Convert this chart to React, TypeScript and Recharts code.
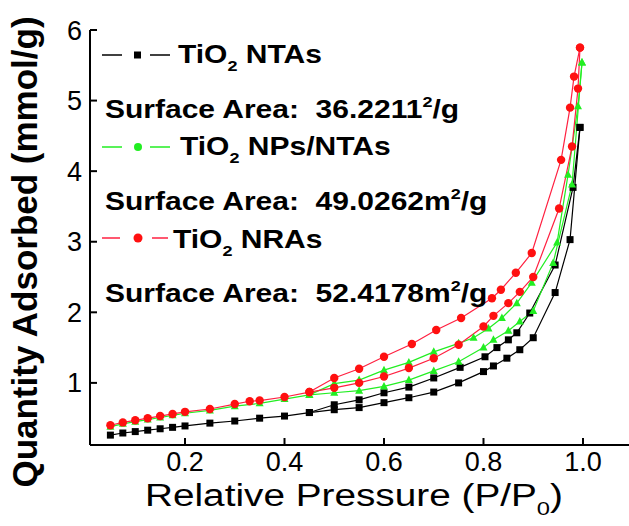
import React from 'react'
import { LineChart, Line, XAxis, YAxis } from 'recharts'

// TiO2 NTAs
const ntasAdsP = [0.05, 0.075, 0.1, 0.125, 0.15, 0.175, 0.2, 0.25, 0.3, 0.35, 0.4, 0.45, 0.5, 0.55, 0.6, 0.65, 0.7, 0.75, 0.8, 0.82, 0.847, 0.873, 0.9, 0.944, 0.974, 0.994]
const ntasAdsQ = [0.26, 0.29, 0.31, 0.33, 0.35, 0.37, 0.39, 0.43, 0.46, 0.5, 0.53, 0.58, 0.62, 0.65, 0.72, 0.79, 0.87, 1.0, 1.16, 1.24, 1.35, 1.47, 1.64, 2.28, 3.03, 4.62]
const ntasDesP = [0.994, 0.98, 0.944, 0.893, 0.867, 0.85, 0.827, 0.803, 0.753, 0.7, 0.65, 0.6, 0.55, 0.5, 0.45]
const ntasDesQ = [4.62, 3.77, 2.67, 1.99, 1.71, 1.61, 1.5, 1.37, 1.22, 1.07, 0.94, 0.86, 0.76, 0.69, 0.58]

// TiO2 NPs/NTAs
const npsAdsP = [0.05, 0.075, 0.1, 0.125, 0.15, 0.175, 0.2, 0.25, 0.3, 0.35, 0.4, 0.45, 0.5, 0.55, 0.6, 0.65, 0.7, 0.75, 0.8, 0.82, 0.85, 0.873, 0.9, 0.94, 0.978, 0.998]
const npsAdsQ = [0.38, 0.42, 0.45, 0.48, 0.51, 0.54, 0.57, 0.61, 0.67, 0.71, 0.77, 0.83, 0.86, 0.89, 0.95, 1.04, 1.17, 1.3, 1.5, 1.61, 1.74, 1.87, 2.02, 2.7, 3.81, 5.54]
const npsDesP = [0.998, 0.99, 0.97, 0.948, 0.897, 0.867, 0.837, 0.81, 0.78, 0.75, 0.7, 0.65, 0.6, 0.55, 0.5, 0.45]
const npsDesQ = [5.54, 4.92, 3.95, 2.99, 2.42, 2.13, 1.92, 1.77, 1.64, 1.56, 1.44, 1.29, 1.18, 1.04, 0.99, 0.83]

// TiO2 NRAs
const nrasAdsP = [0.05, 0.075, 0.1, 0.125, 0.15, 0.175, 0.2, 0.25, 0.3, 0.33, 0.35, 0.4, 0.45, 0.5, 0.55, 0.6, 0.65, 0.7, 0.75, 0.8, 0.82, 0.85, 0.873, 0.9, 0.952, 0.978, 0.99, 0.994]
const nrasAdsQ = [0.4, 0.44, 0.47, 0.5, 0.53, 0.56, 0.59, 0.63, 0.7, 0.74, 0.75, 0.8, 0.87, 0.93, 1.0, 1.09, 1.21, 1.35, 1.54, 1.8, 1.95, 2.13, 2.29, 2.5, 3.47, 4.35, 5.17, 5.75]
const nrasDesP = [0.994, 0.982, 0.974, 0.956, 0.897, 0.865, 0.835, 0.817, 0.755, 0.705, 0.656, 0.6, 0.55, 0.5, 0.45]
const nrasDesQ = [5.75, 5.34, 4.9, 4.16, 2.84, 2.56, 2.32, 2.2, 1.92, 1.75, 1.55, 1.37, 1.2, 1.07, 0.87]

const xTicks = [0.2, 0.4, 0.6, 0.8, 1.0]
const yTicks = [1, 2, 3, 4, 5, 6]

const zip = (p: number[], q: number[]) => p.map((v, i) => ({ p: v, q: q[i] }))

const BLACK = '#000000'
const GREEN = '#22ee22'
const RED = '#ff1010'
const RED_LINE = '#ff2040'
const FONT = '"Liberation Sans", Arial, sans-serif'

const square = (props: any) => (
  <rect key={`sq${props.index}`} x={props.cx - 3.5} y={props.cy - 3.5} width={7} height={7} fill={BLACK} />
)
const triangle = (props: any) => (
  <polygon
    key={`tr${props.index}`}
    points={`${props.cx},${props.cy - 4.5} ${props.cx - 4},${props.cy + 3} ${props.cx + 4},${props.cy + 3}`}
    fill={GREEN}
  />
)
const circle = (props: any) => (
  <circle key={`ci${props.index}`} cx={props.cx} cy={props.cy} r={4.2} fill={RED} />
)

const tickStyle = { fontSize: 27, fill: '#000', fontFamily: FONT }

function LegendOverlay() {
  const sx = 1.2
  return (
    <svg width={629} height={526} style={{ position: 'absolute', left: 0, top: 0, pointerEvents: 'none' }}>
      {/* series samples */}
      <line x1={102} x2={122} y1={55} y2={55} stroke={BLACK} strokeWidth={1.5} />
      <line x1={150} x2={170} y1={55} y2={55} stroke={BLACK} strokeWidth={1.5} />
      <rect x={134} y={51.5} width={7} height={7} fill={BLACK} />
      <line x1={102} x2={122} y1={147} y2={147} stroke={GREEN} strokeWidth={1.5} />
      <line x1={150} x2={170} y1={147} y2={147} stroke={GREEN} strokeWidth={1.5} />
      <circle cx={138} cy={147} r={4} fill={GREEN} />
      <line x1={102} x2={120} y1={238} y2={238} stroke={RED_LINE} strokeWidth={1.5} />
      <line x1={152} x2={168} y1={238} y2={238} stroke={RED_LINE} strokeWidth={1.5} />
      <circle cx={138} cy={238} r={4.5} fill={RED} />

      <g fontFamily={FONT} fontWeight="bold" fill="#000" fontSize={25}>
        <g transform={`translate(178,63) scale(${sx},1)`}>
          <text style={{ whiteSpace: 'pre' }}>TiO<tspan fontSize={15} dy={8}>2</tspan><tspan dy={-8}> NTAs</tspan></text>
        </g>
        <g transform={`translate(105,118) scale(${sx},1)`}>
          <text style={{ whiteSpace: 'pre' }}>Surface Area:  36.2211<tspan fontSize={15} dy={-11}>2</tspan><tspan dy={11}>/g</tspan></text>
        </g>
        <g transform={`translate(180,155) scale(${sx},1)`}>
          <text style={{ whiteSpace: 'pre' }}>TiO<tspan fontSize={15} dy={8}>2</tspan><tspan dy={-8}> NPs/NTAs</tspan></text>
        </g>
        <g transform={`translate(105,210) scale(${sx},1)`}>
          <text style={{ whiteSpace: 'pre' }}>Surface Area:  49.0262m<tspan fontSize={15} dy={-11}>2</tspan><tspan dy={11}>/g</tspan></text>
        </g>
        <g transform={`translate(173,248) scale(${sx},1)`}>
          <text style={{ whiteSpace: 'pre' }}>TiO<tspan fontSize={15} dy={8}>2</tspan><tspan dy={-8}> NRAs</tspan></text>
        </g>
        <g transform={`translate(105,302) scale(${sx},1)`}>
          <text style={{ whiteSpace: 'pre' }}>Surface Area:  52.4178m<tspan fontSize={15} dy={-11}>2</tspan><tspan dy={11}>/g</tspan></text>
        </g>
      </g>

      {/* axis titles */}
      <g transform="translate(145,506) scale(1.25,1)">
        <text fontFamily={FONT} fontSize={31} fill="#000">
          Relative Pressure (P/P<tspan fontSize={19} dy={9}>0</tspan><tspan dy={-9}>)</tspan>
        </text>
      </g>
      <text
        transform="translate(37,252) rotate(-90)"
        textAnchor="middle"
        fontFamily={FONT}
        fontWeight="bold"
        fontSize={35}
        fill="#000"
      >
        Quantity Adsorbed (mmol/g)
      </text>
    </svg>
  )
}

export default function App() {
  return (
    <div style={{ position: 'absolute', left: 0, top: 0, width: 629, height: 526, background: '#fff' }}>
      <LineChart width={629} height={526} margin={{ top: 30, right: 0, left: 0, bottom: 0 }}>
        <XAxis
          type="number"
          dataKey="p"
          domain={[0.009, 1.0925]}
          allowDataOverflow
          ticks={xTicks}
          tickFormatter={(v: number) => v.toFixed(1)}
          height={81}
          tickSize={-7}
          tickMargin={14}
          stroke="#000"
          strokeWidth={2}
          tick={tickStyle}
        />
        <XAxis
          xAxisId="top"
          orientation="top"
          type="number"
          dataKey="p"
          domain={[0.009, 1.0925]}
          allowDataOverflow
          height={0}
          tick={false}
          tickLine={false}
          stroke="#000"
          strokeWidth={2}
        />
        <YAxis
          type="number"
          domain={[0.12, 6]}
          allowDataOverflow
          ticks={yTicks}
          width={90}
          tickSize={-7}
          tickMargin={15}
          stroke="#000"
          strokeWidth={2}
          tick={tickStyle}
        />
        <Line data={zip(ntasAdsP, ntasAdsQ)} dataKey="q" stroke={BLACK} strokeWidth={1.2} dot={square} isAnimationActive={false} />
        <Line data={zip(ntasDesP, ntasDesQ)} dataKey="q" stroke={BLACK} strokeWidth={1.2} dot={square} isAnimationActive={false} />
        <Line data={zip(npsAdsP, npsAdsQ)} dataKey="q" stroke={GREEN} strokeWidth={1.2} dot={triangle} isAnimationActive={false} />
        <Line data={zip(npsDesP, npsDesQ)} dataKey="q" stroke={GREEN} strokeWidth={1.2} dot={triangle} isAnimationActive={false} />
        <Line data={zip(nrasAdsP, nrasAdsQ)} dataKey="q" stroke={RED_LINE} strokeWidth={1.2} dot={circle} isAnimationActive={false} />
        <Line data={zip(nrasDesP, nrasDesQ)} dataKey="q" stroke={RED_LINE} strokeWidth={1.2} dot={circle} isAnimationActive={false} />
      </LineChart>
      <LegendOverlay />
    </div>
  )
}
